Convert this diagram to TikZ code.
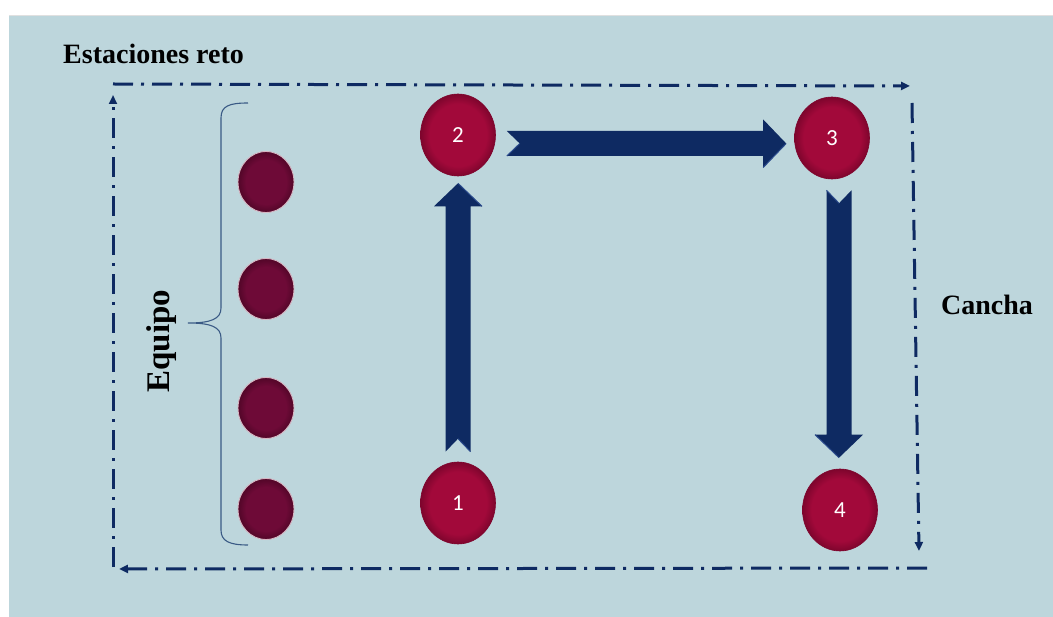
\documentclass[tikz,border=0pt]{standalone}
\usepackage{fontspec}
\setmainfont{Liberation Serif}
\newfontfamily\numfont{Carlito}
\usetikzlibrary{calc,arrows.meta,shapes.geometric}

\definecolor{fieldbg}{HTML}{BDD6DC}
\definecolor{navy}{HTML}{0E2A62}
\definecolor{navylight}{HTML}{2A4A8C}
\definecolor{station}{HTML}{A2093A}
\definecolor{stationedge}{HTML}{7E052D}
\definecolor{player}{HTML}{6E0A37}
\definecolor{playeredge}{HTML}{520628}
\definecolor{playerrim}{HTML}{D6B6C2}
\definecolor{bracecol}{HTML}{3A5A85}

% flat disc that darkens only near its rim
\pgfdeclareradialshading{stationdisc}{\pgfpoint{0bp}{0bp}}%
  {color(0bp)=(station); color(19bp)=(station); color(25bp)=(stationedge); color(50bp)=(stationedge)}
\pgfdeclareradialshading{playerdisc}{\pgfpoint{0bp}{0bp}}%
  {color(0bp)=(player); color(18bp)=(player); color(25bp)=(playeredge); color(50bp)=(playeredge)}

\tikzset{
  boundary/.style={navy, line width=3pt,
    dash pattern=on 20pt off 8pt on 3pt off 8pt,
    -{Triangle[length=9pt,width=8pt]}},
  stationnode/.style={ellipse, minimum width=75pt, minimum height=82pt,
    inner sep=0pt, shading=stationdisc, draw=stationedge, line width=0.6pt,
    text=white, font=\numfont\fontsize{23}{26}\selectfont},
  playernode/.style={ellipse, minimum width=56pt, minimum height=61pt,
    inner sep=0pt, shading=playerdisc, draw=playerrim, line width=0.9pt},
  fatarrow/.style={fill=navy},
  bracepath/.style={draw=bracecol, line width=1.1pt},
  textlabel/.style={font=\bfseries\fontsize{28}{31}\selectfont, inner sep=0pt},
}

% broad arrow with a notched tail: #1 tail, #2 tip, (#3,#4) unit direction
\newcommand\fatarrow[4]{%
  \pgfmathsetmacro\ux{#3}\pgfmathsetmacro\uy{#4}%
  \pgfmathsetmacro\vx{0-(#4)}\pgfmathsetmacro\vy{#3}%
  \fill[fatarrow]
    ($(#1)+({12.5*\vx},{12.5*\vy})$) --
    ($(#2)+({-23*\ux+12.5*\vx},{-23*\uy+12.5*\vy})$) --
    ($(#2)+({-23*\ux+24*\vx},{-23*\uy+24*\vy})$) --
    (#2) --
    ($(#2)+({-23*\ux-24*\vx},{-23*\uy-24*\vy})$) --
    ($(#2)+({-23*\ux-12.5*\vx},{-23*\uy-12.5*\vy})$) --
    ($(#1)+({-12.5*\vx},{-12.5*\vy})$) --
    ($(#1)+({13*\ux},{13*\uy})$) -- cycle;%
  % light bevel along the head and the notch
  \draw[navylight, line width=1pt, line join=round]
    ($(#2)+({-23*\ux+24*\vx},{-23*\uy+24*\vy})$) -- (#2);%
  \draw[navylight, line width=1pt]
    ($(#1)+({12.5*\vx},{12.5*\vy})$) -- ($(#1)+({13*\ux},{13*\uy})$);%
}

\begin{document}
\begin{tikzpicture}[x=1pt,y=-1pt]
  \useasboundingbox (0,0) rectangle (1053,617);
  \fill[white] (0,0) rectangle (1053,617);
  \fill[fieldbg] (9,15) rectangle (1053,617);
  \draw[black!12, line width=1pt] (9,15.5) -- (1053,15.5);

  % titles
  \node[textlabel, anchor=base west] (title) at (63,64) {Estaciones reto};
  \node[textlabel, anchor=base west] (field) at (941,315) {Cancha};
  \node[textlabel, font=\bfseries\fontsize{33}{36}\selectfont, rotate=90] (team) at (162,341) {Equipo};

  % dash-dot field boundary, four arrowed sides
  \coordinate (tl) at (113,84);
  \coordinate (tr) at (910,86);
  \coordinate (rt) at (912,103);
  \coordinate (rb) at (919,551);
  \coordinate (br) at (927,568);
  \coordinate (bl) at (119,569);
  \coordinate (lb) at (113,567);
  \coordinate (lt) at (113,95);
  \draw[boundary] (tl) -- (tr);
  \draw[boundary] (rt) -- (rb);
  \draw[boundary] (br) -- (bl);
  \draw[boundary] (lb) -- (lt);

  % team brace
  \draw[bracepath] (248,103) .. controls (229,103) and (221,106) .. (221,118)
    -- (221,308) .. controls (221,319) and (211,323) .. (188,323)
    .. controls (211,323) and (221,327) .. (221,338)
    -- (221,530) .. controls (221,541) and (229,545) .. (248,545);

  % players
  \node[playernode] (p1) at (266,182) {};
  \node[playernode] (p2) at (266,289) {};
  \node[playernode] (p3) at (266,408) {};
  \node[playernode] (p4) at (266,509) {};

  % stations
  \node[stationnode] (s1) at (458,503) {1};
  \node[stationnode] (s2) at (458,135) {2};
  \node[stationnode] (s3) at (832,138) {3};
  \node[stationnode] (s4) at (840,510) {4};

  % route between stations
  \coordinate (a1t) at ($(s1.north)+(0,-10)$);
  \coordinate (a1h) at ($(s2.south)+(0,7)$);
  \coordinate (a2t) at ($(s2.east)+(11,8.5)$);
  \coordinate (a2h) at ($(s3.west)+(-8,5.5)$);
  \coordinate (a3t) at ($(s3.south)+(7,11)$);
  \coordinate (a3h) at ($(s4.north)+(-1,-11)$);
  \fatarrow{a1t}{a1h}{0}{-1}
  \fatarrow{a2t}{a2h}{1}{0}
  \fatarrow{a3t}{a3h}{0}{1}
\end{tikzpicture}
\end{document}
